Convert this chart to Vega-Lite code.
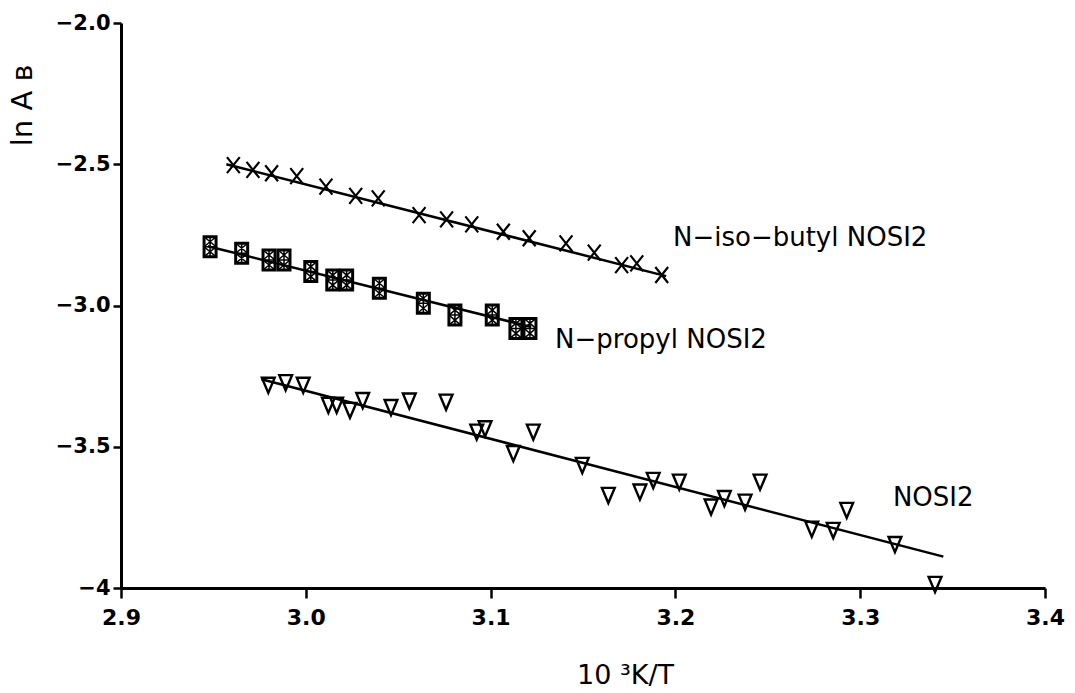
{
  "$schema": "https://vega.github.io/schema/vega-lite/v6.json",
  "width": 924,
  "height": 565,
  "autosize": {"type": "none"},
  "padding": {"left": 121, "top": 23, "right": 30, "bottom": 105},
  "background": "white",
  "config": {
    "view": {"stroke": null},
    "axis": {
      "grid": false,
      "domainColor": "black",
      "domainWidth": 3,
      "tickColor": "black",
      "tickWidth": 2.5,
      "labelColor": "black",
      "titleColor": "black",
      "labelFont": "DejaVu Sans",
      "titleFont": "DejaVu Sans",
      "labelFontWeight": "bold",
      "titleFontWeight": "normal",
      "labelFlush": false,
      "labelOverlap": false
    }
  },
  "datasets": {
    "iso": [
      {"x": 2.9608, "y": -2.503}, {"x": 2.9714, "y": -2.520}, {"x": 2.9815, "y": -2.532},
      {"x": 2.9951, "y": -2.542}, {"x": 3.0109, "y": -2.579}, {"x": 3.0270, "y": -2.612},
      {"x": 3.0392, "y": -2.621}, {"x": 3.0613, "y": -2.680}, {"x": 3.0762, "y": -2.695},
      {"x": 3.0898, "y": -2.713}, {"x": 3.1069, "y": -2.739}, {"x": 3.1209, "y": -2.762},
      {"x": 3.1408, "y": -2.780}, {"x": 3.1561, "y": -2.813}, {"x": 3.1709, "y": -2.857},
      {"x": 3.1791, "y": -2.851}, {"x": 3.1926, "y": -2.892}
    ],
    "propyl": [
      {"x": 2.9482, "y": -2.792}, {"x": 2.9653, "y": -2.815}, {"x": 2.9801, "y": -2.839},
      {"x": 2.9882, "y": -2.839}, {"x": 3.0027, "y": -2.880}, {"x": 3.0146, "y": -2.910},
      {"x": 3.0221, "y": -2.910}, {"x": 3.0398, "y": -2.939}, {"x": 3.0636, "y": -2.992},
      {"x": 3.0807, "y": -3.034}, {"x": 3.1009, "y": -3.034}, {"x": 3.1137, "y": -3.081},
      {"x": 3.1213, "y": -3.081}
    ],
    "nosi": [
      {"x": 2.9797, "y": -3.281}, {"x": 2.9891, "y": -3.272}, {"x": 2.9986, "y": -3.281},
      {"x": 3.0122, "y": -3.352}, {"x": 3.0167, "y": -3.352}, {"x": 3.0239, "y": -3.370},
      {"x": 3.0308, "y": -3.335}, {"x": 3.0461, "y": -3.360}, {"x": 3.0560, "y": -3.337},
      {"x": 3.0759, "y": -3.341}, {"x": 3.0925, "y": -3.447}, {"x": 3.0970, "y": -3.435},
      {"x": 3.1123, "y": -3.523}, {"x": 3.1231, "y": -3.447}, {"x": 3.1496, "y": -3.565},
      {"x": 3.1637, "y": -3.671}, {"x": 3.1808, "y": -3.659}, {"x": 3.1880, "y": -3.618},
      {"x": 3.2021, "y": -3.624}, {"x": 3.2193, "y": -3.712}, {"x": 3.2265, "y": -3.682},
      {"x": 3.2377, "y": -3.695}, {"x": 3.2458, "y": -3.624}, {"x": 3.2738, "y": -3.791},
      {"x": 3.2854, "y": -3.795}, {"x": 3.2927, "y": -3.724}, {"x": 3.3188, "y": -3.845},
      {"x": 3.3405, "y": -3.986}
    ],
    "fits": [
      {"series": "iso", "x": 2.957, "y": -2.500}, {"series": "iso", "x": 3.195, "y": -2.896},
      {"series": "propyl", "x": 2.947, "y": -2.790}, {"series": "propyl", "x": 3.122, "y": -3.076},
      {"series": "nosi", "x": 2.976, "y": -3.261}, {"series": "nosi", "x": 3.345, "y": -3.889}
    ],
    "labels": [
      {"text": "N\u2212iso\u2212butyl NOSI2", "x": 3.1987, "y": -2.761},
      {"text": "N\u2212propyl NOSI2", "x": 3.1349, "y": -3.122},
      {"text": "NOSI2", "x": 3.3177, "y": -3.681}
    ]
  },
  "layer": [
    {
      "data": {"name": "fits"},
      "mark": {"type": "line", "color": "black", "strokeWidth": 2.5},
      "encoding": {
        "x": {
          "field": "x", "type": "quantitative",
          "scale": {"domain": [2.9, 3.4], "nice": false, "zero": false},
          "axis": {
            "values": [2.9, 3.0, 3.1, 3.2, 3.3, 3.4],
            "format": ".1f",
            "labelFontSize": 22,
            "tickSize": 10,
            "labelPadding": 9,
            "title": "10 \u00b3K/T",
            "titleFontSize": 27,
            "titleX": 504,
            "titleY": 95,
            "titleAlign": "center",
            "titleBaseline": "alphabetic"
          }
        },
        "y": {
          "field": "y", "type": "quantitative",
          "scale": {"domain": [-4, -2], "nice": false, "zero": false},
          "axis": {
            "values": [-4, -3.5, -3, -2.5, -2],
            "labelExpr": "datum.value == -4 ? '\u22124' : format(datum.value, '.1f')",
            "labelFontSize": 21,
            "tickSize": 8,
            "labelPadding": 3,
            "title": "ln A \u0299",
            "titleFontSize": 29,
            "titleAngle": 270,
            "titleX": -99,
            "titleY": 82,
            "titleAlign": "center",
            "titleBaseline": "middle"
          }
        },
        "detail": {"field": "series"}
      }
    },
    {
      "data": {"name": "iso"},
      "mark": {"type": "point", "shape": "M-0.8,-1L0.8,1M-0.8,1L0.8,-1", "filled": false, "color": "black", "strokeWidth": 2.2, "opacity": 1, "size": 256},
      "encoding": {
        "x": {"field": "x", "type": "quantitative"},
        "y": {"field": "y", "type": "quantitative"}
      }
    },
    {
      "data": {"name": "propyl"},
      "mark": {"type": "point", "shape": "M-0.6,-1L0.6,-1L0.6,1L-0.6,1Z", "filled": false, "color": "black", "strokeWidth": 3, "opacity": 1, "size": 400},
      "encoding": {
        "x": {"field": "x", "type": "quantitative"},
        "y": {"field": "y", "type": "quantitative"}
      }
    },
    {
      "data": {"name": "propyl"},
      "mark": {"type": "point", "shape": "M-0.6,-1L0.6,0M0.6,-1L-0.6,0M-0.6,0L0.6,1M0.6,0L-0.6,1M0,-1L0,1M-0.6,0L0.6,0", "filled": false, "color": "black", "strokeWidth": 1.5, "opacity": 1, "size": 400},
      "encoding": {
        "x": {"field": "x", "type": "quantitative"},
        "y": {"field": "y", "type": "quantitative"}
      }
    },
    {
      "data": {"name": "nosi"},
      "mark": {"type": "point", "shape": "M-0.8,-0.9L0.8,-0.9L0,1Z", "filled": false, "color": "black", "strokeWidth": 2.4, "opacity": 1, "size": 256},
      "encoding": {
        "x": {"field": "x", "type": "quantitative"},
        "y": {"field": "y", "type": "quantitative"}
      }
    },
    {
      "data": {"name": "labels"},
      "mark": {"type": "text", "align": "left", "baseline": "middle", "font": "DejaVu Sans", "fontSize": 26, "color": "black"},
      "encoding": {
        "x": {"field": "x", "type": "quantitative"},
        "y": {"field": "y", "type": "quantitative"},
        "text": {"field": "text"}
      }
    }
  ]
}
